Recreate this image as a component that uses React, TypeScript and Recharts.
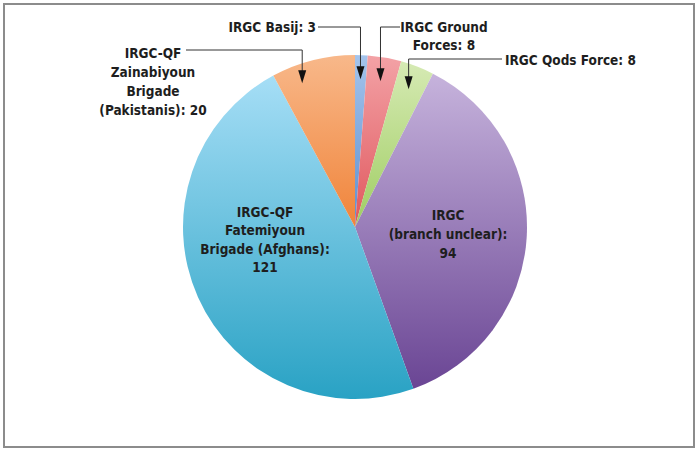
import React from "react";
import { PieChart, Pie, Cell } from "recharts";

// slices clockwise from 12 o'clock
const names = [
  "IRGC Basij",
  "IRGC Ground Forces",
  "IRGC Qods Force",
  "IRGC (branch unclear)",
  "IRGC-QF Fatemiyoun Brigade (Afghans)",
  "IRGC-QF Zainabiyoun Brigade (Pakistanis)",
];
const values = [3, 8, 8, 94, 121, 20];
const labelText = [
  ["IRGC Basij: 3"],
  ["IRGC Ground", "Forces: 8"],
  ["IRGC Qods Force: 8"],
  ["IRGC", "(branch unclear):", "94"],
  ["IRGC-QF", "Fatemiyoun", "Brigade (Afghans):", "121"],
  ["IRGC-QF", "Zainabiyoun", "Brigade", "(Pakistanis): 20"],
];
const topColors = ["#a4c4ec", "#f3a2a6", "#d6eab4", "#c6b3dc", "#a6def6", "#f8b88a"];
const bottomColors = ["#5d8fd0", "#e0575d", "#9fcd62", "#6a4594", "#29a2c4", "#f0843a"];

const data = names.map((name, i) => ({ name, value: values[i] }));

type Layout = {
  inside?: boolean;
  x: number;
  ys: number[];
  anchor: "start" | "middle" | "end";
  lineY?: number;
  lineX?: number;
  shift?: number;
  tipR?: number;
};

const layout: Layout[] = [
  { x: 316, ys: [27], anchor: "end", lineY: 27, lineX: 318 },
  { x: 444, ys: [27, 45], anchor: "middle", lineY: 27, lineX: 400 },
  { x: 505, ys: [60], anchor: "start", lineY: 59, lineX: 502 },
  { inside: true, x: 448, ys: [215, 234, 253], anchor: "middle" },
  { inside: true, x: 265, ys: [212, 230, 249, 267], anchor: "middle" },
  { x: 153, ys: [53, 72, 91, 110], anchor: "middle", lineY: 50, lineX: 186, shift: 6, tipR: 0.89 },
];

const RADIAN = Math.PI / 180;
const font = "'Liberation Sans Narrow', 'DejaVu Sans Condensed', Arial, sans-serif";

const renderLabel = (props: any) => {
  const { cx, cy, midAngle, outerRadius, index } = props;
  const l = layout[index];
  const texts = labelText[index].map((t, k) => (
    <text
      key={k}
      x={l.x}
      y={l.ys[k]}
      textAnchor={l.anchor}
      dominantBaseline="central"
      fontFamily={font}
      fontWeight="bold"
      fontSize={13.5}
      fill="#1e1e1e"
    >
      {t}
    </text>
  ));
  if (l.inside) return <g>{texts}</g>;
  const ang = (midAngle + (l.shift || 0)) * RADIAN;
  const r = outerRadius * (l.tipR || 0.86);
  const tx = cx + r * Math.cos(-ang);
  const ty = cy + r * Math.sin(-ang);
  return (
    <g>
      {texts}
      <polyline
        points={`${l.lineX},${l.lineY} ${tx},${l.lineY} ${tx},${ty - 12}`}
        fill="none"
        stroke="#333"
        strokeWidth={1}
      />
      <polygon points={`${tx - 4},${ty - 13} ${tx + 4},${ty - 13} ${tx},${ty}`} fill="#111" />
    </g>
  );
};

export default function App() {
  return (
    <div style={{ position: "absolute", left: 0, top: 0, width: 698, height: 450, background: "#fff" }}>
      <div
        style={{
          position: "absolute",
          left: 3,
          top: 3,
          width: 692,
          height: 445,
          boxSizing: "border-box",
          border: "2px solid #8c8c8c",
        }}
      />
      <div style={{ position: "absolute", left: 0, top: 0 }}>
        <PieChart width={698} height={450} margin={{ top: 0, right: 0, bottom: 0, left: 0 }}>
          <defs>
            {names.map((_, i) => (
              <linearGradient key={i} id={`g${i}`} x1="0" y1="0" x2="0" y2="1">
                <stop offset="0%" stopColor={topColors[i]} />
                <stop offset="100%" stopColor={bottomColors[i]} />
              </linearGradient>
            ))}
          </defs>
          <Pie
            data={data}
            dataKey="value"
            nameKey="name"
            cx={355}
            cy={227}
            outerRadius={172}
            startAngle={90}
            endAngle={-270}
            stroke="none"
            label={renderLabel}
            labelLine={false}
            isAnimationActive={false}
          >
            {data.map((_, i) => (
              <Cell key={i} fill={`url(#g${i})`} />
            ))}
          </Pie>
        </PieChart>
      </div>
    </div>
  );
}
